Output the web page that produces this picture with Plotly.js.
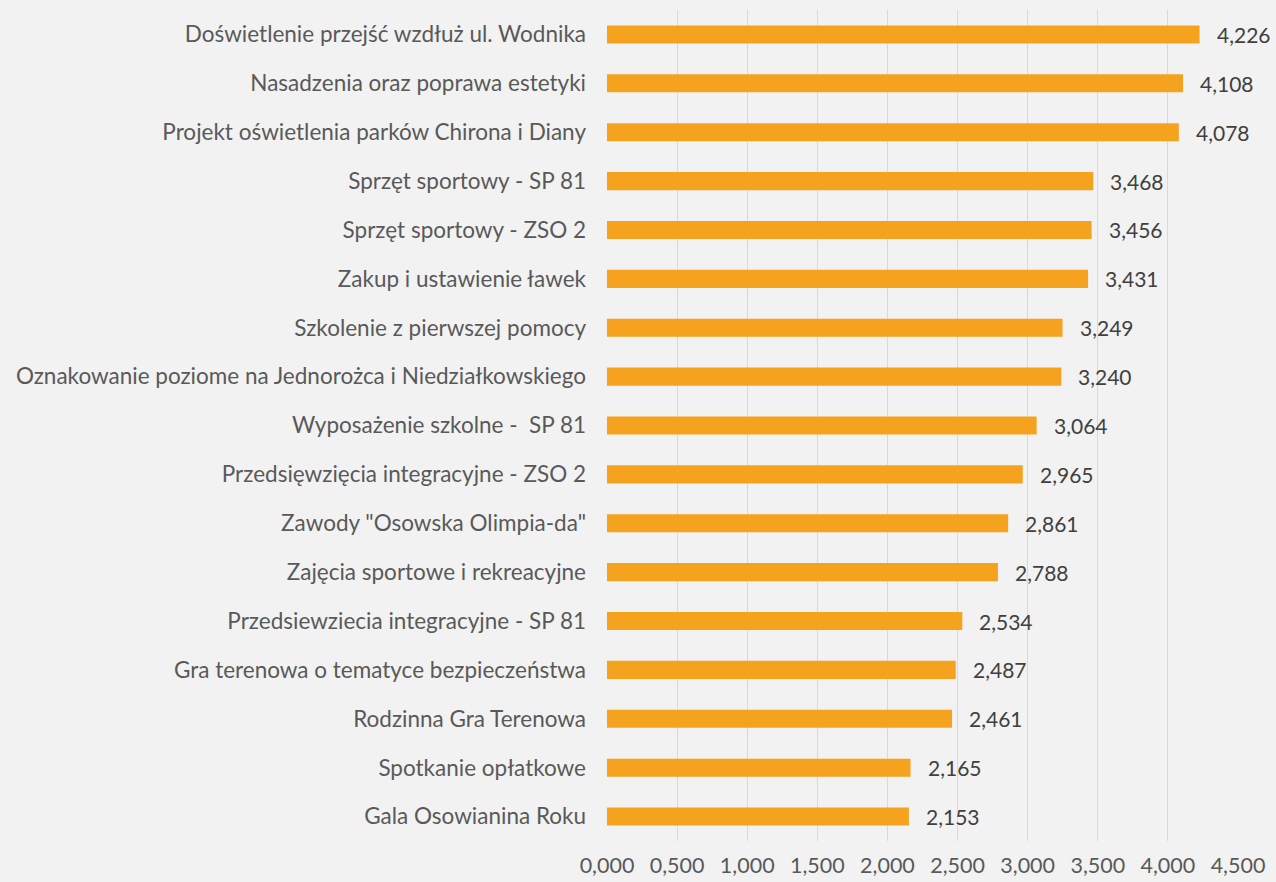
<!DOCTYPE html>
<html>
<head>
<meta charset="utf-8">
<script src="https://cdn.plot.ly/plotly-3.0.1.min.js"></script>
<style>html,body{margin:0;padding:0;background:#F2F2F2;}#chart{width:1276px;height:882px;}</style>
</head>
<body>
<div id="chart"></div>
<script>
const categories = [
  "Doświetlenie przejść wzdłuż ul. Wodnika",
  "Nasadzenia oraz poprawa estetyki",
  "Projekt oświetlenia parków Chirona i Diany",
  "Sprzęt sportowy - SP 81",
  "Sprzęt sportowy - ZSO 2",
  "Zakup i ustawienie ławek",
  "Szkolenie z pierwszej pomocy",
  "Oznakowanie poziome na Jednorożca i Niedziałkowskiego",
  "Wyposażenie szkolne -  SP 81",
  "Przedsięwzięcia integracyjne - ZSO 2",
  "Zawody \"Osowska Olimpia-da\"",
  "Zajęcia sportowe i rekreacyjne",
  "Przedsiewziecia integracyjne - SP 81",
  "Gra terenowa o tematyce bezpieczeństwa",
  "Rodzinna Gra Terenowa",
  "Spotkanie opłatkowe",
  "Gala Osowianina Roku"
];
const values = [4.226, 4.108, 4.078, 3.468, 3.456, 3.431, 3.249, 3.240, 3.064, 2.965, 2.861, 2.788, 2.534, 2.487, 2.461, 2.165, 2.153];
const tickValues = [0, 0.5, 1, 1.5, 2, 2.5, 3, 3.5, 4, 4.5];

const FONT = 'Lato, sans-serif';

const trace = {
  type: 'bar',
  orientation: 'h',
  x: values,
  y: categories,
  marker: {color: '#F5A31F'},
  hoverinfo: 'none'
};

const annotations = values.map((v, i) => ({
  x: v,
  y: categories[i],
  xref: 'x',
  yref: 'y',
  text: v.toFixed(3).replace('.', ','),
  showarrow: false,
  xanchor: 'left',
  yanchor: 'middle',
  xshift: 15,
  font: {family: FONT, size: 21, color: '#404040'}
}));

const layout = {
  width: 1276,
  height: 882,
  paper_bgcolor: '#F2F2F2',
  plot_bgcolor: '#F2F2F2',
  separators: ',.',
  margin: {l: 607, r: 38, t: 10, b: 41, pad: 0},
  bargap: 0.63,
  showlegend: false,
  font: {family: FONT, size: 21, color: '#595959'},
  annotations: annotations,
  xaxis: {
    range: [0, 4.5],
    tickvals: tickValues,
    tickformat: '.3f',
    showgrid: true,
    gridcolor: '#D9D9D9',
    gridwidth: 1,
    zeroline: false,
    showline: false,
    ticks: '',
    ticklabelstandoff: 9,
    tickfont: {family: FONT, size: 21.5, color: '#595959'}
  },
  yaxis: {
    autorange: 'reversed',
    showgrid: false,
    zeroline: false,
    showline: false,
    ticks: '',
    ticklabelstandoff: 20,
    tickfont: {family: FONT, size: 22.5, color: '#595959'}
  }
};

Plotly.newPlot('chart', [trace], layout, {displayModeBar: false, staticPlot: true});
</script>
</body>
</html>
